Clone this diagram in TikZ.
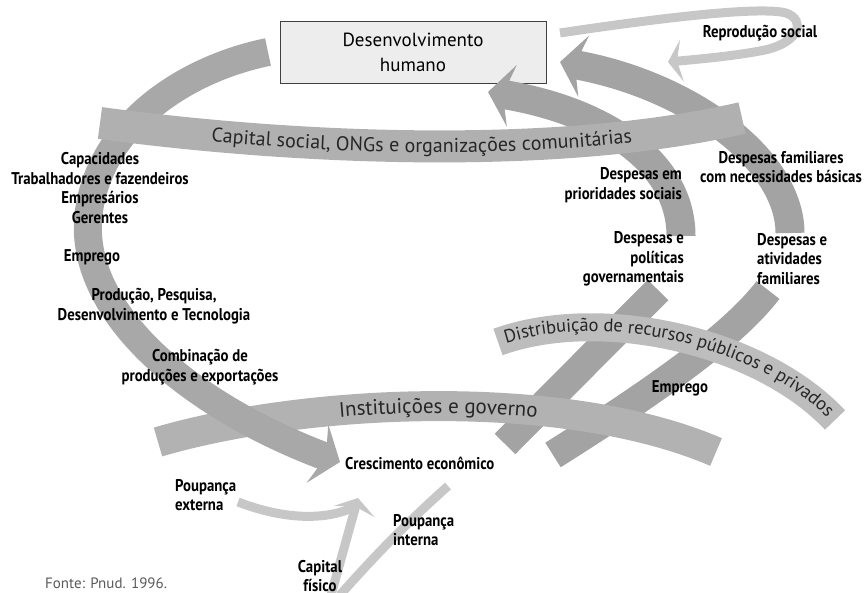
\documentclass[tikz,border=0pt]{standalone}
\usepackage{fontspec}
\usetikzlibrary{arrows.meta,decorations.text}
\newfontfamily\lblfont[FakeStretch=0.87]{PT Sans}
\newfontfamily\bandfont{PT Sans}
\definecolor{arcgray}{gray}{0.66}
\definecolor{diaggray}{gray}{0.64}
\definecolor{capgray}{gray}{0.69}
\definecolor{instgray}{gray}{0.70}
\definecolor{distgray}{gray}{0.74}
\definecolor{thingray}{gray}{0.78}
\begin{document}
\begin{tikzpicture}[x=1pt, y=1pt,
    band/.style={draw=#1, line width=29pt},
    band/.default=arcgray,
    thin band/.style={draw=thingray, line width=9pt},
    bighead/.style={-{Stealth[length=24pt, width=62pt, inset=9pt]}},
    smallhead/.style={-{Stealth[length=14pt, width=42pt, inset=5pt]}},
    lbl/.style={font=\lblfont\bfseries\fontsize{17}{19.5}\selectfont, inner sep=0pt, align=center},
    box/.style={draw=black!75, fill=black!7, minimum width=266pt, minimum height=62pt,
      inner sep=0pt, align=center, font=\bandfont\fontsize{19}{25}\selectfont},
  ]

  \useasboundingbox (0,0) rectangle (866,-593);

  \node[box] (dh) at (413,-52) {Desenvolvimento\\humano};

  %% diagonal bands, lower parts
  \draw[band=diaggray] (505,-444) -- (658,-290);
  \draw[band=diaggray] (553,-455) .. controls (640,-400) and (730,-340) .. (768,-290);

  %% Instituicoes e governo
  \draw[band=instgray, line width=30pt]
    (158,-442) .. controls (300,-400) and (560,-385) .. (716,-452);
  \path[decorate, decoration={text along path, raise=-7pt, text align=center,
      text={|\bandfont\fontsize{21}{26}\selectfont\color{black!85}|Instituições e governo}}]
    (158,-442) .. controls (300,-400) and (560,-385) .. (716,-452);

  %% big left arc -> crescimento
  \draw[band, line width=28pt, bighead]
    (268,-52) .. controls (180,-70) and (95,-130) .. (88,-220)
    .. controls (82,-320) and (200,-410) .. (340,-462);

  %% Distribuicao de recursos
  \draw[band=distgray, line width=28pt]
    (498,-342) .. controls (600,-305) and (760,-340) .. (835,-420);
  \path[decorate, decoration={text along path, raise=-4pt, text align=center,
      text={|\bandfont\fontsize{18.5}{24}\selectfont\color{black!85}|Distribuição de recursos públicos e privados}}]
    (498,-342) .. controls (600,-305) and (760,-340) .. (835,-420);

  %% diagonal bands, upper parts with heads
  \draw[band=diaggray, bighead] (681,-236) .. controls (681,-160) and (600,-110) .. (488,-92);
  \draw[band=diaggray, bighead] (790,-233) .. controls (790,-160) and (690,-85) .. (560,-62);

  %% Capital social
  \draw[band=capgray, line width=32pt]
    (100,-123) .. controls (300,-150) and (560,-160) .. (742,-118);
  \path[decorate, decoration={text along path, raise=-6pt, text align=center,
      text={|\bandfont\fontsize{20}{24}\selectfont\color{black!85}|Capital social, ONGs e organizações comunitárias}}]
    (100,-123) .. controls (300,-150) and (560,-160) .. (742,-118);

  %% thin loops and savings
  \draw[thin band, smallhead] (560,-33) .. controls (660,-18) and (760,-6) .. (786,-13)
    .. controls (806,-20) and (800,-42) .. (765,-50) .. controls (735,-56) and (700,-59) .. (668,-62);
  \draw[thin band] (238,-502) .. controls (285,-520) and (325,-520) .. (352,-508);
  \draw[thin band, smallhead] (331,-595) -- (358,-498);
  \draw[thin band] (340,-595) .. controls (380,-550) and (410,-520) .. (448,-486);

  %% labels
  \node[lbl] (cap) at (100,-188) {Capacidades\\Trabalhadores e fazendeiros\\Empresários\\Gerentes};
  \node[lbl] (emp1) at (92,-257) {Emprego};
  \node[lbl] (prod) at (154,-306) {Produção, Pesquisa,\\Desenvolvimento e Tecnologia};
  \node[lbl] (comb) at (200,-367) {Combinação de\\produções e exportações};
  \node[lbl, anchor=west] (cresc) at (345,-463) {Crescimento econômico};
  \node[lbl, anchor=west, align=left] (pext) at (175,-495) {Poupança\\externa};
  \node[lbl, anchor=west, align=left] (pint) at (393,-530) {Poupança\\interna};
  \node[lbl] (capf) at (320,-576) {Capital\\físico};
  \node[lbl, anchor=east, align=right] (dps) at (682,-185) {Despesas em\\prioridades sociais};
  \node[lbl] (dfam) at (781,-167) {Despesas familiares\\com necessidades básicas};
  \node[lbl, anchor=east, align=right] (dpol) at (684,-259) {Despesas e\\políticas\\governamentais};
  \node[lbl, anchor=west, align=left] (dat) at (757,-259) {Despesas e\\atividades\\familiares};
  \node[lbl] (emp2) at (680,-388) {Emprego};
  \node[lbl] (repro) at (760,-33) {Reprodução social};
  \node[anchor=west, inner sep=0pt, text=black!65, font=\bandfont\fontsize{15}{18}\selectfont]
    (fonte) at (45,-583) {Fonte: Pnud. 1996.};

\end{tikzpicture}
\end{document}
